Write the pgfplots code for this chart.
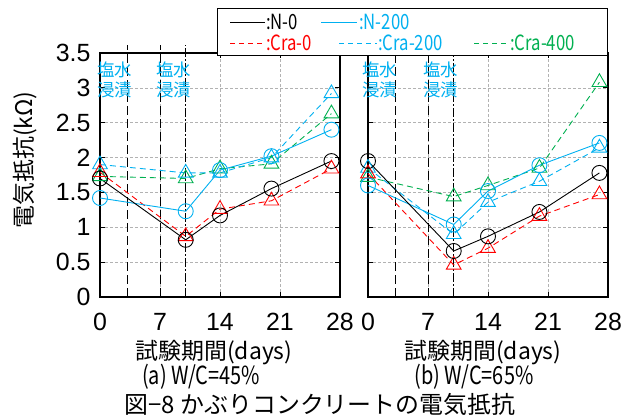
\documentclass[border=0pt]{standalone}
\usepackage{pgfplots}
\pgfplotsset{compat=1.18}
\usepackage{fontspec}
\setmainfont{Liberation Sans}
\newfontfamily\jp{Noto Sans CJK JP}
\newfontfamily\jpn[FakeStretch=0.8]{Noto Sans CJK JP}
\definecolor{cy}{RGB}{0,176,240}
\definecolor{rd}{RGB}{255,0,0}
\definecolor{gr}{RGB}{0,176,80}

\pgfplotstableread{
x n0 n200 c0 c200 c400
0  1.70 1.42 1.79 1.90 1.73
10 0.82 1.23 0.87 1.78 1.70
14 1.17 1.82 1.26 1.78 1.84
20 1.555 2.02 1.38 2.00 1.91
27 1.95 2.40 1.84 2.92 2.63
}\tabA
\pgfplotstableread{
x n0 n200 c0 c200 c400
0  1.95 1.60 1.77 1.85 1.72
10 0.66 1.04 0.46 0.90 1.44
14 0.87 1.52 0.70 1.36 1.60
20 1.22 1.89 1.16 1.66 1.85
27 1.78 2.21 1.47 2.14 3.08
}\tabB

\pgfplotsset{
 panel/.style={scale only axis, width=240bp, height=244bp,
   xmin=0, xmax=28, ymin=0, ymax=3.5,
   xtick={0,7,14,21,28}, ytick={0,0.5,1,1.5,2,2.5,3,3.5},
   grid=major, major grid style={black!30, dash pattern=on 3bp off 2bp, line width=0.6bp},
   axis line style={line width=1.2bp}, tick style={black, line width=0.8bp},
   major tick length=5bp,
   tick label style={font=\fontsize{25}{27}\selectfont},
   xticklabel style={yshift=-13bp},
   yticklabel style={xshift=-6bp},
   /pgf/number format/assume math mode=true,
   clip=false},
 sN0/.style={black, line width=0.9bp, mark=o, mark size=7.5bp, mark options={solid}},
 sN200/.style={cy, line width=0.9bp, mark=o, mark size=7.5bp, mark options={solid}},
 sC0/.style={rd, line width=0.9bp, dash pattern=on 6bp off 4bp, mark=triangle, mark size=8.5bp, mark options={solid}},
 sC200/.style={cy, line width=0.9bp, dash pattern=on 6bp off 4bp, mark=triangle, mark size=8.5bp, mark options={solid}},
 sC400/.style={gr, line width=0.9bp, dash pattern=on 6bp off 4bp, mark=triangle, mark size=8.5bp, mark options={solid}},
 vl/.style={black, line width=0.9bp, dash pattern=on 9bp off 4bp, forget plot},
 vlb/.style={black, line width=0.9bp, dash pattern=on 9bp off 2bp on 2bp off 2bp, forget plot},
}
\tikzset{enyo/.style={cy, align=center, inner sep=0pt, font=\jp\fontsize{17.5}{20}\selectfont}}

\begin{document}
\begin{tikzpicture}
\useasboundingbox (0,0) rectangle (623bp,420bp);
% left panel
\begin{axis}[panel, at={(100bp,123bp)}, anchor=south west,
  yticklabels={0,0.5,1,1.5,2,2.5,3,3.5}]
\addplot[vl] coordinates {(3.2,0) (3.2,3.62)};
\addplot[vl] coordinates {(7,0) (7,3.62)};
\addplot[vlb] coordinates {(10,0) (10,3.62)};
\addplot[sC400] table[x=x,y=c400] {\tabA};
\addplot[sC200] table[x=x,y=c200] {\tabA};
\addplot[sC0] table[x=x,y=c0] {\tabA};
\addplot[sN200] table[x=x,y=n200] {\tabA};
\addplot[sN0] table[x=x,y=n0] {\tabA};
\node[enyo] at (axis cs:1.7,3.11) {塩水\\浸漬};
\node[enyo] at (axis cs:8.6,3.11) {塩水\\浸漬};
\end{axis}
% right panel
\begin{axis}[panel, at={(368bp,123bp)}, anchor=south west,
  yticklabels={}]
\addplot[vl] coordinates {(3.2,0) (3.2,3.5)};
\addplot[vl] coordinates {(7,0) (7,3.5)};
\addplot[vlb] coordinates {(10,0) (10,3.5)};
\addplot[sC400] table[x=x,y=c400] {\tabB};
\addplot[sC200] table[x=x,y=c200] {\tabB};
\addplot[sC0] table[x=x,y=c0] {\tabB};
\addplot[sN200] table[x=x,y=n200] {\tabB};
\addplot[sN0] table[x=x,y=n0] {\tabB};
\node[enyo] at (axis cs:1.34,3.11) {塩水\\浸漬};
\node[enyo] at (axis cs:8.46,3.11) {塩水\\浸漬};
\end{axis}
% labels
\node[rotate=90, inner sep=0pt, font=\jp\fontsize{23}{25}\selectfont] at (25bp,260bp) {電気抵抗(kΩ)};
\node[inner sep=0pt, font=\jp\fontsize{23}{25}\selectfont] at (214bp,67bp) {試験期間(days)};
\node[inner sep=0pt, font=\jp\fontsize{23}{25}\selectfont] at (483bp,67bp) {試験期間(days)};
\node[inner sep=0pt, font=\jpn\fontsize{25}{27}\selectfont] at (201bp,43bp) {(a) W/C=45\%};
\node[inner sep=0pt, font=\jpn\fontsize{25}{27}\selectfont] at (474bp,43bp) {(b) W/C=65\%};
\node[inner sep=0pt, font=\jp\fontsize{24}{26}\selectfont] at (320bp,16bp) {図−8 かぶりコンクリートの電気抵抗};
% legend
\draw[fill=white, line width=1bp] (217bp,364bp) rectangle (607bp,411bp);
\begin{scope}[every node/.style={anchor=west, inner sep=0pt, font=\jpn\fontsize{21}{23}\selectfont}]
\draw[black, line width=0.9bp] (230bp,398bp) -- (265bp,398bp);
\node[black] at (266bp,398bp) {:N-0};
\draw[cy, line width=0.9bp] (321bp,398bp) -- (357bp,398bp);
\node[cy] at (359bp,398bp) {:N-200};
\draw[rd, line width=0.9bp, dash pattern=on 5bp off 4bp] (230bp,377bp) -- (265bp,377bp);
\node[rd] at (266bp,377bp) {:Cra-0};
\draw[cy, line width=0.9bp, dash pattern=on 5bp off 4bp] (339bp,377bp) -- (377bp,377bp);
\node[cy] at (378bp,377bp) {:Cra-200};
\draw[gr, line width=0.9bp, dash pattern=on 5bp off 4bp] (474bp,377bp) -- (510bp,377bp);
\node[gr] at (510bp,377bp) {:Cra-400};
\end{scope}
\end{tikzpicture}
\end{document}
